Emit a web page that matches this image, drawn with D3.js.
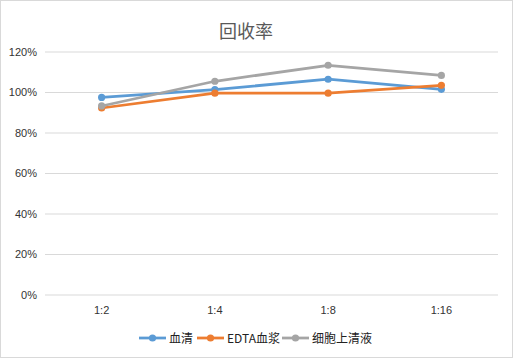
<!DOCTYPE html>
<html><head><meta charset="utf-8">
<script src="https://cdn.jsdelivr.net/npm/d3@7"></script>
<style>body{margin:0;background:#fff}svg{display:block;font-family:"Microsoft YaHei","Noto Sans CJK SC",sans-serif}</style>
</head><body><svg id="c" width="513" height="358"></svg>
<script>
const categories = ["1:2","1:4","1:8","1:16"];
const seriesNames = ["血清","EDTA血浆","细胞上清液"];
const serum = [97.3, 101.2, 106.3, 101.3];
const edta = [92.1, 99.4, 99.4, 103.3];
const supernatant = [93.1, 105.3, 113.2, 108.2];
const yTicks = [0,20,40,60,80,100,120];
const colors = ["#5B9BD5","#ED7D31","#A5A5A5"];
const series = [serum, edta, supernatant];

const svg = d3.select("#c");
svg.append("rect").attr("x",0.5).attr("y",0.5).attr("width",512).attr("height",357)
  .attr("fill","#fff").attr("stroke","#d9d9d9");
const L=45,R=498,T=51.5,B=294.5;
const x = d3.scaleBand().domain(categories).range([L,R]);
const y = d3.scaleLinear().domain([0,120]).range([B,T]);

svg.append("text").attr("x",246).attr("y",38).attr("text-anchor","middle")
  .attr("font-size",18).attr("fill","#595959").text("回收率");

const ga = svg.append("g").attr("transform",`translate(${L},0)`)
  .call(d3.axisLeft(y).tickValues(yTicks).tickSize(-(R-L)).tickFormat(d=>d+"%"));
ga.select(".domain").remove();
ga.selectAll("line").attr("stroke","#d9d9d9");
ga.selectAll("text").attr("x",-8).attr("fill","#333").attr("font-size",11)
  .attr("font-family","'Liberation Sans',Arial,sans-serif");

const gx = svg.append("g").attr("transform",`translate(0,${B})`)
  .call(d3.axisBottom(x).tickSize(0));
gx.select(".domain").remove();
gx.selectAll("text").attr("dy",0).attr("y",19).attr("fill","#333").attr("font-size",11)
  .attr("font-family","'Liberation Sans',Arial,sans-serif");

const line = d3.line().x((d,i)=>x(categories[i])+x.bandwidth()/2).y(d=>y(d));
series.forEach((s,k)=>{
  svg.append("path").datum(s).attr("d",line).attr("fill","none")
    .attr("stroke",colors[k]).attr("stroke-width",2.75).attr("stroke-linejoin","round");
  svg.selectAll(null).data(s).enter().append("circle")
    .attr("cx",(d,i)=>x(categories[i])+x.bandwidth()/2).attr("cy",d=>y(d))
    .attr("r",3.6).attr("fill",colors[k]);
});

const legX=[139,197,282];
const lg = svg.append("g");
seriesNames.forEach((n,k)=>{
  const g = lg.append("g").attr("transform",`translate(${legX[k]},338)`);
  g.append("line").attr("x1",0).attr("x2",27).attr("stroke",colors[k]).attr("stroke-width",2.75);
  g.append("circle").attr("cx",13.5).attr("r",3.6).attr("fill",colors[k]);
  g.append("text").attr("x",30).attr("y",4.5).attr("font-size",12).attr("fill","#222").text(n);
});
</script></body></html>
